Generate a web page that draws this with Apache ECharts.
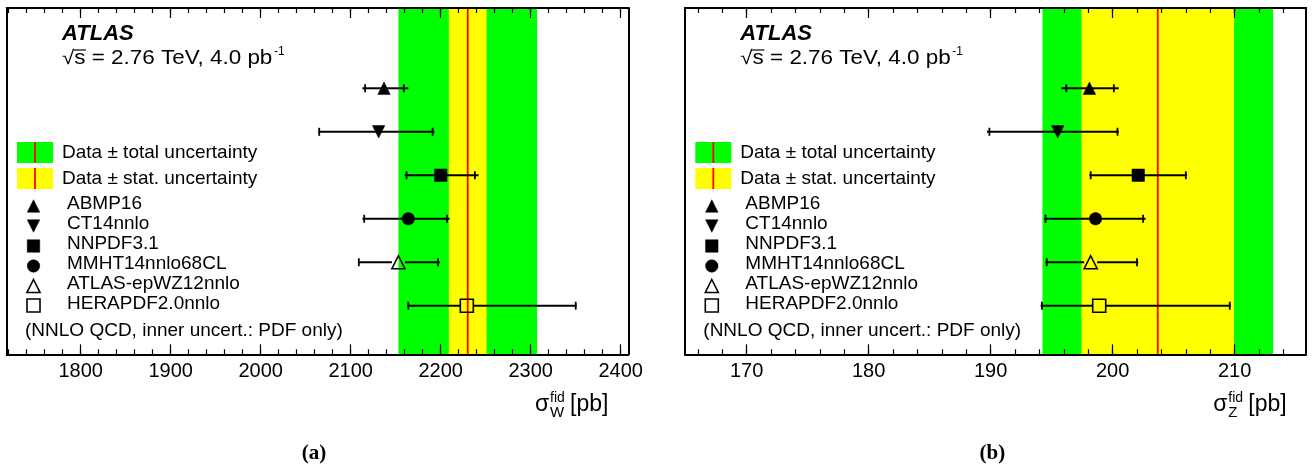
<!DOCTYPE html>
<html><head><meta charset="utf-8">
<script src="https://cdn.jsdelivr.net/npm/echarts@6/dist/echarts.min.js"></script>
<style>html,body{margin:0;padding:0;background:#fff}#c{width:1313px;height:469px}</style>
</head><body><div id="c"></div>
<script>
// ---------------- data ----------------
const pdfSets = ['ABMP16', 'CT14nnlo', 'NNPDF3.1', 'MMHT14nnlo68CL', 'ATLAS-epWZ12nnlo', 'HERAPDF2.0nnlo'];
const markerKinds = ['triUp', 'triDown', 'square', 'circle', 'triUpOpen', 'squareOpen'];

// W panel (a)
const wCentral = [2137, 2131, 2200, 2164, 2153, 2229];
const wPdfLo   = [2116, 2065, 2162, 2115, 2109, 2164];
const wPdfHi   = [2159, 2191, 2238, 2207, 2197, 2350];
const wTotLo   = [2113, 2064, 2160, 2113, 2108, 2163];
const wTotHi   = [2164, 2193, 2242, 2210, 2199, 2351];
const wMeasured = 2230, wStat = 21, wTotal = 77;
const wMajorTicks = [1800, 1900, 2000, 2100, 2200, 2300, 2400];

// Z panel (b)
const zCentral = [198.1, 195.5, 202.1, 198.6, 198.2, 198.9];
const zPdfLo   = [196.2, 189.9, 198.2, 194.5, 194.6, 194.2];
const zPdfHi   = [200.1, 200.4, 206.0, 202.5, 202.0, 209.6];
const zTotLo   = [195.8, 189.7, 198.1, 194.4, 194.5, 194.1];
const zTotHi   = [200.5, 200.5, 206.1, 202.7, 202.1, 209.7];
const zMeasured = 203.7, zStat = 6.25, zTotal = 9.45;
const zMajorTicks = [170, 180, 190, 200, 210];

// ---------------- helpers ----------------
const FONT = '"Liberation Sans", Arial, Helvetica, sans-serif';
const Y_MIN = -0.117, Y_MAX = 7.846;

function range(a, b, step) { const r = []; for (let v = a; v <= b + 1e-9; v += step) r.push(+v.toFixed(4)); return r; }

const panels = [
  { central: wCentral, pdfLo: wPdfLo, pdfHi: wPdfHi, totLo: wTotLo, totHi: wTotHi,
    meas: wMeasured, stat: wStat, total: wTotal, min: 1717.8, max: 2408.4,
    major: wMajorTicks, minor: range(1720, 2400, 20), left: 6.7, right: 684.7, dx: 0, boson: 'W', tag: '(a)' },
  { central: zCentral, pdfLo: zPdfLo, pdfHi: zPdfHi, totLo: zTotLo, totHi: zTotHi,
    meas: zMeasured, stat: zStat, total: zTotal, min: 164.95, max: 215.85,
    major: zMajorTicks, minor: range(166, 214, 2), left: 685, right: 7, dx: 678.3, boson: 'Z', tag: '(b)' }
];

function markerEl(kind, cx, cy, s) {
  const h = s / 2;
  const filled = { fill: '#000', stroke: '#000', lineWidth: 0.5 };
  const open = { fill: 'none', stroke: '#000', lineWidth: 1.6 };
  switch (kind) {
    case 'triUp': return { type: 'polygon', shape: { points: [[cx, cy - h], [cx + h, cy + h], [cx - h, cy + h]] }, style: filled };
    case 'triDown': return { type: 'polygon', shape: { points: [[cx, cy + h], [cx + h, cy - h], [cx - h, cy - h]] }, style: filled };
    case 'square': return { type: 'rect', shape: { x: cx - h, y: cy - h, width: s, height: s }, style: filled };
    case 'circle': return { type: 'circle', shape: { cx: cx, cy: cy, r: h }, style: filled };
    case 'triUpOpen': return { type: 'polygon', shape: { points: [[cx, cy - h], [cx + h, cy + h], [cx - h, cy + h]] }, style: open };
    case 'squareOpen': return { type: 'rect', shape: { x: cx - h, y: cy - h, width: s, height: s }, style: open };
  }
}

function renderPoint(params, api) {
  const y = api.value(1);
  const c = api.coord([api.value(0), y]);
  const pl = api.coord([api.value(2), y])[0];
  const ph = api.coord([api.value(3), y])[0];
  const tl = api.coord([api.value(4), y])[0];
  const th = api.coord([api.value(5), y])[0];
  const kind = markerKinds[api.value(6)];
  const isOpen = kind.indexOf('Open') >= 0;
  const s = isOpen ? 13 : 12.5;
  const gap = isOpen ? s / 2 : 0;
  const ls = { stroke: '#000', lineWidth: 2 };
  const children = [
    { type: 'line', shape: { x1: tl, y1: c[1], x2: c[0] - gap, y2: c[1] }, style: ls },
    { type: 'line', shape: { x1: c[0] + gap, y1: c[1], x2: th, y2: c[1] }, style: ls },
    { type: 'line', shape: { x1: pl, y1: c[1] - 4, x2: pl, y2: c[1] + 4 }, style: { stroke: '#000', lineWidth: 1.8 } },
    { type: 'line', shape: { x1: ph, y1: c[1] - 4, x2: ph, y2: c[1] + 4 }, style: { stroke: '#000', lineWidth: 1.8 } },
    markerEl(kind, c[0], c[1], s)
  ];
  return { type: 'group', children: children };
}

function renderBand(params, api) {
  const cs = params.coordSys;
  const kind = api.value(2);
  const x1 = api.coord([api.value(0), 0])[0];
  const x2 = api.coord([api.value(1), 0])[0];
  if (kind === 2) {
    return { type: 'line', shape: { x1: x1, y1: cs.y, x2: x1, y2: cs.y + cs.height }, style: { stroke: '#ff0000', lineWidth: 1.8 } };
  }
  return { type: 'rect', shape: { x: x1, y: cs.y, width: x2 - x1, height: cs.height },
           style: { fill: kind === 0 ? '#00ff00' : '#ffff00' } };
}

// ---------------- build option ----------------
const grids = [], xAxes = [], yAxes = [], series = [], graphics = [];

function txt(x, y, text, size, styleExtra, elExtra) {
  const el = { type: 'text', x: x, y: y, silent: true,
    style: Object.assign({ text: text, fontSize: size, fontFamily: FONT, fill: '#000', align: 'left', verticalAlign: 'middle' }, styleExtra || {}) };
  return Object.assign(el, elExtra || {});
}

panels.forEach((p, gi) => {
  grids.push({ left: p.left, right: p.right, top: 8, bottom: 114.7, show: false });
  const base = { type: 'value', gridIndex: gi, min: p.min, max: p.max, z: 10,
    splitLine: { show: false }, axisLabel: { show: false }, axisLine: { show: false, onZero: false }, axisTick: { show: false } };
  const lineOn = { show: true, onZero: false, lineStyle: { color: '#000', width: 2 } };
  const majorTick = { show: true, inside: true, length: 10, customValues: p.major, lineStyle: { color: '#000', width: 1.2 } };
  const minorTick = { show: true, inside: true, length: 5, customValues: p.minor, lineStyle: { color: '#000', width: 1.2 } };
  xAxes.push(Object.assign({}, base, { position: 'bottom', axisLine: lineOn, axisTick: majorTick,
    axisLabel: { show: true, customValues: p.major, color: '#000', fontFamily: FONT, fontSize: 20, margin: 7,
      formatter: function (v) { return String(v); } } }));
  xAxes.push(Object.assign({}, base, { position: 'bottom', axisTick: minorTick }));
  xAxes.push(Object.assign({}, base, { position: 'top', axisLine: lineOn, axisTick: majorTick }));
  xAxes.push(Object.assign({}, base, { position: 'top', axisTick: minorTick }));
  const ybase = { type: 'value', gridIndex: gi, min: Y_MIN, max: Y_MAX, z: 10, axisLine: lineOn,
    axisTick: { show: false }, axisLabel: { show: false }, splitLine: { show: false } };
  yAxes.push(Object.assign({}, ybase, { position: 'left' }));
  yAxes.push(Object.assign({}, ybase, { position: 'right' }));

  const bandData = [
    [p.meas - p.total, p.meas + p.total, 0],
    [p.meas - p.stat, p.meas + p.stat, 1],
    [p.meas, p.meas, 2]
  ];
  series.push({ type: 'custom', xAxisIndex: gi * 4, yAxisIndex: gi * 2, z: 1, silent: true,
    renderItem: renderBand, encode: { x: [0, 1], y: 2 }, data: bandData });

  const pts = pdfSets.map((n, i) => [p.central[i], pdfSets.length - i, p.pdfLo[i], p.pdfHi[i], p.totLo[i], p.totHi[i], i]);
  series.push({ type: 'custom', xAxisIndex: gi * 4, yAxisIndex: gi * 2, z: 3, silent: true, clip: false,
    renderItem: renderPoint, encode: { x: [0, 2, 3, 4, 5], y: 1 }, data: pts });

  // ---- annotations / legend ----
  const dx = p.dx;
  graphics.push(txt(62 + dx, 34, 'ATLAS', 22, { fontWeight: 'bold', fontStyle: 'italic' }));
  graphics.push(txt(62 + dx, 58.5, '\u221As = 2.76 TeV, 4.0 pb', 19.5, null, { scaleX: 1.15 }));
  graphics.push({ type: 'line', silent: true, shape: { x1: 74 + dx, y1: 50, x2: 86 + dx, y2: 50 }, style: { stroke: '#000', lineWidth: 1.2 } });
  graphics.push(txt(274 + dx, 52, '-1', 12));

  graphics.push({ type: 'rect', silent: true, shape: { x: 17 + dx, y: 142, width: 36, height: 21 }, style: { fill: '#00ff00' } });
  graphics.push({ type: 'line', silent: true, shape: { x1: 35 + dx, y1: 142, x2: 35 + dx, y2: 163 }, style: { stroke: '#ff0000', lineWidth: 1.8 } });
  graphics.push({ type: 'rect', silent: true, shape: { x: 17 + dx, y: 168, width: 36, height: 21 }, style: { fill: '#ffff00' } });
  graphics.push({ type: 'line', silent: true, shape: { x1: 35 + dx, y1: 168, x2: 35 + dx, y2: 189 }, style: { stroke: '#ff0000', lineWidth: 1.8 } });
  graphics.push(txt(62 + dx, 152.5, 'Data \u00B1 total uncertainty', 19));
  graphics.push(txt(62 + dx, 178.5, 'Data \u00B1 stat. uncertainty', 19));

  const legY = [204, 224, 244, 264, 284, 303.5];
  pdfSets.forEach((n, i) => {
    const kind = markerKinds[i];
    const m = markerEl(kind, 33.5 + dx, legY[i] + 2, kind.indexOf('Open') >= 0 ? 13 : 12.5);
    m.silent = true;
    graphics.push(m);
    graphics.push(txt(67 + dx, legY[i], n, 19));
  });
  graphics.push(txt(25 + dx, 331, '(NNLO QCD, inner uncert.: PDF only)', 19));

  // axis title
  graphics.push(txt(535 + dx, 405, '\u03C3', 23));
  graphics.push(txt(550 + dx, 398, 'fid', 14));
  graphics.push(txt(550 + dx, 413, p.boson, 15));
  graphics.push(txt(570 + dx, 405, '[pb]', 23));

  graphics.push({ type: 'text', x: 314 + dx, y: 454, silent: true,
    style: { text: p.tag, fontSize: 21, fontWeight: 'bold', fontFamily: '"Liberation Serif", "Times New Roman", serif', fill: '#000', align: 'center', verticalAlign: 'middle' } });
});

const option = {
  backgroundColor: '#ffffff',
  animation: false,
  grid: grids,
  xAxis: xAxes,
  yAxis: yAxes,
  series: series,
  graphic: { elements: graphics }
};

const chart = echarts.init(document.getElementById('c'), null, { renderer: 'canvas' });
chart.setOption(option);
</script>
</body></html>
